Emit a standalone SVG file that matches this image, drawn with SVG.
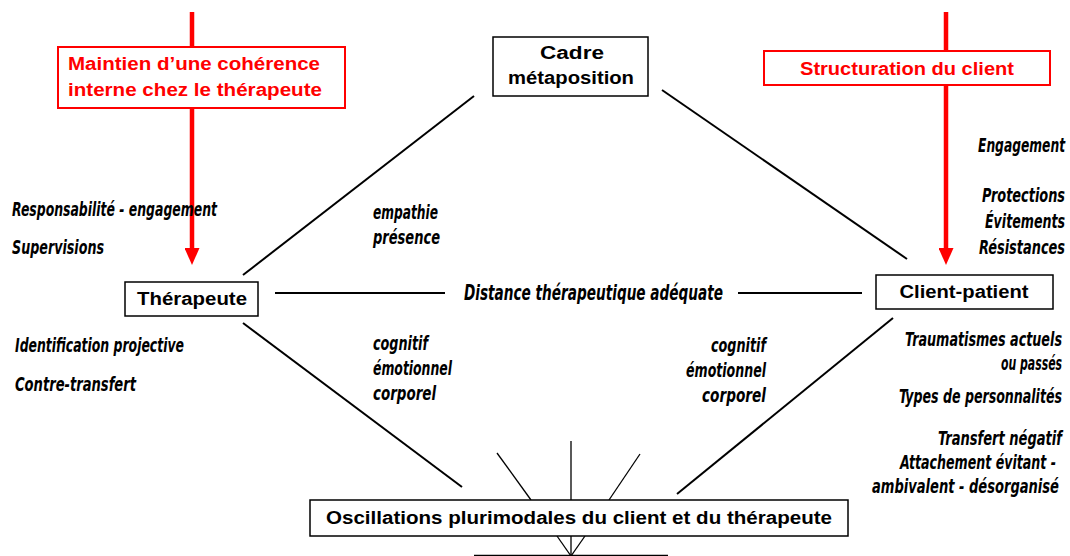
<svg xmlns="http://www.w3.org/2000/svg" width="1070" height="556" viewBox="0 0 1070 556">
<defs>
<style>
.box{fill:#fff;stroke:#000;stroke-width:1.5}
.rbox{fill:#fff;stroke:#f00;stroke-width:2}
.bt{font-family:"Liberation Sans",Arial,sans-serif;font-weight:bold;font-size:18px;fill:#000;text-anchor:middle}
.rt{font-family:"Liberation Sans",Arial,sans-serif;font-weight:bold;font-size:18px;fill:#f00;text-anchor:middle}
.it{font-family:"DejaVu Sans Condensed","DejaVu Sans",sans-serif;font-style:italic;font-weight:bold;font-size:19px;fill:#000}
.ln{stroke:#000;stroke-width:2;fill:none}
.thin{stroke:#000;stroke-width:1.3;fill:none}
.red{stroke:#f00;stroke-width:4.5;fill:none}
</style>
<marker id="ah" viewBox="0 0 17 15" refX="1" refY="7.5" markerWidth="17" markerHeight="15" orient="auto" markerUnits="userSpaceOnUse">
<path d="M0,0 L17,7.5 L0,15 Z" fill="#f00"/>
</marker>
</defs>
<rect width="1070" height="556" fill="#fff"/>
<g id="connectors">
<line class="ln" x1="243" y1="275" x2="474" y2="96"/>
<line class="ln" x1="662" y1="90" x2="907" y2="259"/>
<line class="ln" x1="243" y1="323" x2="462" y2="487"/>
<line class="ln" x1="893" y1="318" x2="677" y2="494"/>
<line class="ln" x1="275" y1="293" x2="445" y2="293"/>
<line class="ln" x1="738" y1="293" x2="862" y2="293"/>
<line class="thin" x1="497" y1="453" x2="531" y2="500"/>
<line class="thin" x1="571" y1="441" x2="571" y2="500"/>
<line class="thin" x1="640" y1="454" x2="609" y2="500"/>
<line class="thin" x1="557" y1="536" x2="571" y2="556"/>
<line class="thin" x1="585" y1="536" x2="571" y2="556"/>
<line class="thin" x1="571" y1="536" x2="571" y2="556"/>
<line class="thin" x1="474" y1="555.5" x2="668" y2="555.5"/>
<line class="red" x1="192" y1="12" x2="192" y2="249" marker-end="url(#ah)"/>
<line class="red" x1="946" y1="12" x2="946" y2="249" marker-end="url(#ah)"/>
</g>
<g id="maintien">
<rect class="rbox" x="58" y="47" width="287" height="61"/>
<text class="rt" x="194" y="70" textLength="252" lengthAdjust="spacingAndGlyphs">Maintien d’une cohérence</text>
<text class="rt" x="195" y="96" textLength="254" lengthAdjust="spacingAndGlyphs">interne chez le thérapeute</text>
</g>
<g id="structuration">
<rect class="rbox" x="764" y="51" width="286" height="34"/>
<text class="rt" x="907" y="75" textLength="214" lengthAdjust="spacingAndGlyphs">Structuration du client</text>
</g>
<g id="cadre">
<rect class="box" x="493" y="37" width="155" height="59"/>
<text class="bt" x="572" y="59" textLength="64" lengthAdjust="spacingAndGlyphs">Cadre</text>
<text class="bt" x="571" y="84" textLength="126" lengthAdjust="spacingAndGlyphs">métaposition</text>
</g>
<g id="therapeute">
<rect class="box" x="125" y="282" width="133" height="34"/>
<text class="bt" x="192" y="305" textLength="110" lengthAdjust="spacingAndGlyphs">Thérapeute</text>
</g>
<g id="client">
<rect class="box" x="876" y="275" width="177" height="34"/>
<text class="bt" x="964" y="298" textLength="129" lengthAdjust="spacingAndGlyphs">Client-patient</text>
</g>
<g id="oscillations">
<rect class="box" x="310" y="500" width="538" height="36"/>
<text class="bt" x="579" y="524" textLength="506" lengthAdjust="spacingAndGlyphs">Oscillations plurimodales du client et du thérapeute</text>
</g>
<g id="labels">
<text class="it" transform="translate(12 216) scale(.75 1)" textLength="273.3" lengthAdjust="spacingAndGlyphs">Responsabilité - engagement</text>
<text class="it" transform="translate(12 254) scale(.75 1)" textLength="122.7" lengthAdjust="spacingAndGlyphs">Supervisions</text>
<text class="it" transform="translate(15 352) scale(.75 1)" textLength="225.3" lengthAdjust="spacingAndGlyphs">Identification projective</text>
<text class="it" transform="translate(15 391) scale(.75 1)" textLength="161.3" lengthAdjust="spacingAndGlyphs">Contre-transfert</text>
<text class="it" transform="translate(373 219) scale(.75 1)" textLength="86.7" lengthAdjust="spacingAndGlyphs">empathie</text>
<text class="it" transform="translate(373 244) scale(.75 1)" textLength="89.3" lengthAdjust="spacingAndGlyphs">présence</text>
<text class="it" transform="translate(373 350) scale(.75 1)" textLength="73.3" lengthAdjust="spacingAndGlyphs">cognitif</text>
<text class="it" transform="translate(373 375) scale(.75 1)" textLength="105.3" lengthAdjust="spacingAndGlyphs">émotionnel</text>
<text class="it" transform="translate(373 400) scale(.75 1)" textLength="84" lengthAdjust="spacingAndGlyphs">corporel</text>
<text class="it" transform="translate(711 352) scale(.75 1)" textLength="73.3" lengthAdjust="spacingAndGlyphs">cognitif</text>
<text class="it" transform="translate(686 377) scale(.75 1)" textLength="106.7" lengthAdjust="spacingAndGlyphs">émotionnel</text>
<text class="it" transform="translate(702 402) scale(.75 1)" textLength="85.3" lengthAdjust="spacingAndGlyphs">corporel</text>
<text class="it" transform="translate(464 300) scale(.75 1)" style="font-size:21px" textLength="345.3" lengthAdjust="spacingAndGlyphs">Distance thérapeutique adéquate</text>
<text class="it" transform="translate(978 152) scale(.75 1)" textLength="116" lengthAdjust="spacingAndGlyphs">Engagement</text>
<text class="it" transform="translate(982 202) scale(.75 1)" textLength="110.7" lengthAdjust="spacingAndGlyphs">Protections</text>
<text class="it" transform="translate(985 228) scale(.75 1)" textLength="106.7" lengthAdjust="spacingAndGlyphs">Évitements</text>
<text class="it" transform="translate(979 254) scale(.75 1)" textLength="114.7" lengthAdjust="spacingAndGlyphs">Résistances</text>
<text class="it" transform="translate(905 346) scale(.75 1)" textLength="209.3" lengthAdjust="spacingAndGlyphs">Traumatismes actuels</text>
<text class="it" transform="translate(1001 370) scale(.62 1)" style="font-size:20px" textLength="98.4" lengthAdjust="spacingAndGlyphs">ou passés</text>
<text class="it" transform="translate(899 403) scale(.75 1)" textLength="217.3" lengthAdjust="spacingAndGlyphs">Types de personnalités</text>
<text class="it" transform="translate(938 445) scale(.75 1)" textLength="165.3" lengthAdjust="spacingAndGlyphs">Transfert négatif</text>
<text class="it" transform="translate(900 469) scale(.75 1)" textLength="208" lengthAdjust="spacingAndGlyphs">Attachement  évitant -</text>
<text class="it" transform="translate(872 493) scale(.75 1)" textLength="249.3" lengthAdjust="spacingAndGlyphs">ambivalent - désorganisé</text>
</g>
</svg>
